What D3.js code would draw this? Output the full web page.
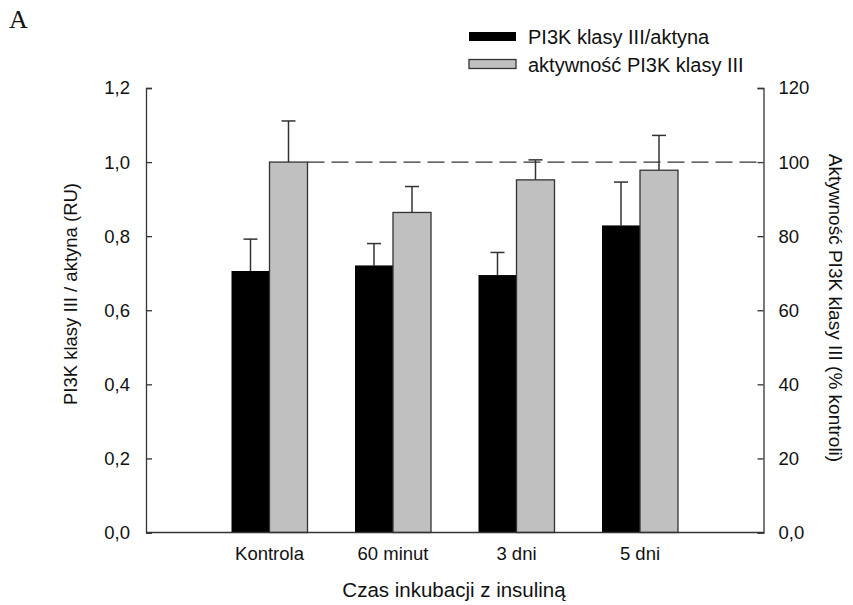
<!DOCTYPE html>
<html>
<head>
<meta charset="utf-8">
<script src="https://cdn.jsdelivr.net/npm/d3@7"></script>
<style>
  html, body { margin: 0; padding: 0; background: #fff; }
  text { font-family: "Liberation Sans", Arial, sans-serif; fill: #111; }
  text.panel { font-family: "Liberation Serif", "Times New Roman", serif; }
</style>
</head>
<body>
<div id="chart"></div>
<script>
const categories = ['Kontrola', '60 minut', '3 dni', '5 dni'];
const ratioValues = [0.706, 0.721, 0.695, 0.829];
const ratioErrors = [0.086, 0.059, 0.061, 0.117];
const activityValues = [100, 86.4, 95.2, 97.8];
const activityErrors = [11.1, 7.0, 5.4, 9.4];
const leftTicks = [0, 0.2, 0.4, 0.6, 0.8, 1.0, 1.2];
const rightTicks = [0, 20, 40, 60, 80, 100, 120];
const seriesNames = ['PI3K klasy III/aktyna', 'aktywność PI3K klasy III'];

const w = 853, h = 605;
const plotLeft = 146, plotRight = 763.5, plotTop = 88, plotBottom = 532.5;
const fmt = v => v.toFixed(1).replace('.', ',');

const svg = d3.select('#chart').append('svg')
  .attr('width', w)
  .attr('height', h);

const x = d3.scalePoint()
  .domain(categories)
  .range([plotLeft, plotRight])
  .padding(1);

const yL = d3.scaleLinear().domain([0, 1.2]).range([plotBottom, plotTop]);
const yR = d3.scaleLinear().domain([0, 120]).range([plotBottom, plotTop]);

const barW = 38;
const ink = '#333';

// dashed reference line at 100 %
svg.append('line')
  .attr('x1', x('Kontrola') + barW).attr('x2', plotRight)
  .attr('y1', yR(100)).attr('y2', yR(100))
  .attr('stroke', ink)
  .attr('stroke-width', 1.2)
  .attr('stroke-dasharray', '17,7');

const data = categories.map((c, i) => ({
  c, r: ratioValues[i], re: ratioErrors[i], a: activityValues[i], ae: activityErrors[i]
}));

// error bars (drawn behind bars)
const errs = [
  { get: d => [yL(d.r), yL(d.r + d.re)], dx: -barW / 2 },
  { get: d => [yR(d.a), yR(d.a + d.ae)], dx: barW / 2 }
];
errs.forEach(e => {
  const g = svg.append('g').attr('stroke', ink).attr('stroke-width', 1.5);
  g.selectAll('line.v').data(data).enter().append('line')
    .attr('x1', d => x(d.c) + e.dx).attr('x2', d => x(d.c) + e.dx)
    .attr('y1', d => e.get(d)[0]).attr('y2', d => e.get(d)[1]);
  g.selectAll('line.cap').data(data).enter().append('line')
    .attr('x1', d => x(d.c) + e.dx - 7).attr('x2', d => x(d.c) + e.dx + 7)
    .attr('y1', d => e.get(d)[1]).attr('y2', d => e.get(d)[1]);
});

// black bars
svg.selectAll('rect.ratio').data(data).enter().append('rect')
  .attr('x', d => x(d.c) - barW)
  .attr('y', d => yL(d.r))
  .attr('width', barW)
  .attr('height', d => plotBottom - yL(d.r))
  .attr('fill', '#000');

// gray bars
svg.selectAll('rect.act').data(data).enter().append('rect')
  .attr('x', d => x(d.c))
  .attr('y', d => yR(d.a))
  .attr('width', barW)
  .attr('height', d => plotBottom - yR(d.a))
  .attr('fill', '#c0c0c0')
  .attr('stroke', ink)
  .attr('stroke-width', 1.3);

/**
 * AXES
 */
const yAxisL = d3.axisLeft(yL).tickValues(leftTicks).tickFormat(fmt).tickSize(-6).tickPadding(16);
const yAxisR = d3.axisRight(yR).tickValues(rightTicks)
  .tickFormat(d => d === 0 ? '0,0' : d).tickSize(-6).tickPadding(15);

svg.append('g')
  .attr('class', 'y-left')
  .attr('transform', `translate(${plotLeft},0)`)
  .call(yAxisL);

svg.append('g')
  .attr('class', 'y-right')
  .attr('transform', `translate(${plotRight},0)`)
  .call(yAxisR);

svg.append('line')
  .attr('x1', plotLeft).attr('x2', plotRight)
  .attr('y1', plotBottom).attr('y2', plotBottom)
  .attr('stroke', ink).attr('stroke-width', 1.3);

svg.selectAll('.domain').attr('stroke', ink).attr('stroke-width', 1.3);
svg.selectAll('.tick line').attr('stroke', ink).attr('stroke-width', 1.3);
svg.selectAll('.tick text')
  .attr('font-size', 18.5)
  .attr('fill', '#111');

// category labels
svg.selectAll('text.cat').data(categories).enter().append('text')
  .attr('x', d => x(d))
  .attr('y', 560)
  .attr('text-anchor', 'middle')
  .attr('font-size', 18.5)
  .text(d => d);

// axis titles
svg.append('text')
  .attr('text-anchor', 'middle')
  .attr('x', 454)
  .attr('y', 597)
  .attr('font-size', 20.5)
  .text('Czas inkubacji z insuliną');

svg.append('text')
  .attr('text-anchor', 'middle')
  .attr('transform', `translate(77, 294)rotate(-90)`)
  .attr('font-size', 18.5)
  .text('PI3K klasy III / aktyna (RU)');

svg.append('text')
  .attr('text-anchor', 'middle')
  .attr('transform', `translate(829, 308)rotate(90)`)
  .attr('font-size', 19)
  .text('Aktywność PI3K klasy III (% kontroli)');

// panel letter
svg.append('text')
  .attr('class', 'panel')
  .attr('x', 9).attr('y', 28)
  .attr('font-size', 26)
  .text('A');

// legend
const legend = svg.append('g').attr('transform', 'translate(469,32)');
const swatchFill = ['#000', '#c0c0c0'];
seriesNames.forEach((name, i) => {
  legend.append('rect')
    .attr('x', 0).attr('y', i * 27.5)
    .attr('width', 47).attr('height', 9)
    .attr('fill', swatchFill[i])
    .attr('stroke', i ? ink : 'none')
    .attr('stroke-width', 1.3);
  legend.append('text')
    .attr('x', 59).attr('y', i * 27.5 + 12)
    .attr('font-size', 20)
    .text(name);
});
</script>
</body>
</html>
